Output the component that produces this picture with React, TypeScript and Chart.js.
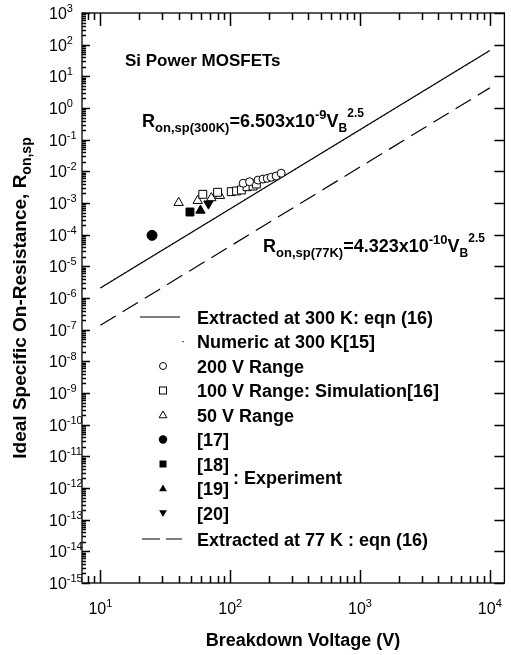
import React, { useEffect, useRef } from "react";
import { Chart, registerables } from "chart.js";

Chart.register(...registerables);

// Closed-form fits (R_on,sp = k * V_B^2.5), end points of each straight log-log line
const fitVoltage = [10, 10000];
const fit300K = [2.06e-6, 65.0];
const fit77K = [1.37e-7, 4.32];

// Numerical 300 K result
const numericVoltage = [10, 20, 50, 100, 200, 500, 1000, 2000, 5000, 10000];
const numeric300K = [2.1e-6, 1.2e-5, 1.15e-4, 6.6e-4, 3.7e-3, 3.6e-2, 0.2, 1.16, 11.4, 64];

// Simulated devices [16]
const range200Voltage = [126, 141, 164, 179, 193, 207, 226, 247];
const range200Ron = [4.2e-3, 4.7e-3, 5.3e-3, 5.7e-3, 6.0e-3, 6.5e-3, 7.1e-3, 8.7e-3];
const range100Voltage = [61.5, 80, 102, 112, 122, 135, 150, 159];
const range100Ron = [1.88e-3, 2.18e-3, 2.28e-3, 2.4e-3, 2.58e-3, 3.27e-3, 3.44e-3, 3.98e-3];
const range50Voltage = [40.1, 56.2, 71.6, 83.4];
const range50Ron = [1.02e-3, 1.18e-3, 1.44e-3, 1.7e-3];

// Experimental devices
const ref17Voltage = [25];
const ref17Ron = [9.5e-5];
const ref18Voltage = [49];
const ref18Ron = [5.2e-4];
const ref19Voltage = [59];
const ref19Ron = [5.8e-4];
const ref20Voltage = [68];
const ref20Ron = [9.5e-4];

const X_MIN = 7.22;
const X_MAX = 12950;
const Y_MIN = 1e-15;
const Y_MAX = 1e3;

const xDecades = [1, 2, 3, 4];
const xTickDecades = [0, 1, 2, 3, 4];
const yDecades = [3, 2, 1, 0, -1, -2, -3, -4, -5, -6, -7, -8, -9, -10, -11, -12, -13, -14, -15];
const mantissas = [1, 2, 3, 4, 5, 6, 7, 8, 9];

const legendRows = [
  "Extracted at 300 K: eqn (16)",
  "Numeric at 300 K[15]",
  "200 V Range",
  "100 V Range: Simulation[16]",
  "50 V Range",
  "[17]",
  "[18]",
  "[19]",
  "[20]",
  "Extracted at 77 K : eqn (16)",
];

const FONT = '"Liberation Sans", Arial, Helvetica, sans-serif';

const pts = (xs: number[], ys: number[]) => xs.map((x, i) => ({ x, y: ys[i] }));

type Seg = { t: string; s: number; dy?: number };

function rich(ctx: CanvasRenderingContext2D, x: number, y: number, segs: Seg[], bold: boolean, align: "left" | "center") {
  const widths = segs.map((sg) => {
    ctx.font = `${bold ? "bold " : ""}${sg.s}px ${FONT}`;
    return ctx.measureText(sg.t).width;
  });
  const total = widths.reduce((a, b) => a + b, 0);
  let cx = align === "center" ? x - total / 2 : x;
  segs.forEach((sg, i) => {
    ctx.font = `${bold ? "bold " : ""}${sg.s}px ${FONT}`;
    ctx.fillText(sg.t, cx, y + (sg.dy || 0));
    cx += widths[i];
  });
}

function tri(ctx: CanvasRenderingContext2D, x: number, y: number, r: number, down: boolean) {
  const h = r * 1.5;
  const w = r * 1.732;
  ctx.beginPath();
  if (down) {
    ctx.moveTo(x, y + r);
    ctx.lineTo(x - w / 2, y + r - h);
    ctx.lineTo(x + w / 2, y + r - h);
  } else {
    ctx.moveTo(x, y - r);
    ctx.lineTo(x - w / 2, y - r + h);
    ctx.lineTo(x + w / 2, y - r + h);
  }
  ctx.closePath();
}

function seg(ctx: CanvasRenderingContext2D, x1: number, y1: number, x2: number, y2: number) {
  ctx.beginPath();
  ctx.moveTo(x1, y1);
  ctx.lineTo(x2, y2);
  ctx.stroke();
}

// Frame with inward major/minor ticks on all four sides
const frameTicks = {
  id: "frameTicks",
  afterDraw(chart: any) {
    const ctx: CanvasRenderingContext2D = chart.ctx;
    const a = chart.chartArea;
    const xs = chart.scales.x;
    const ys = chart.scales.y;
    ctx.save();
    ctx.globalAlpha = 1;
    ctx.globalCompositeOperation = "source-over";
    ctx.setLineDash([]);
    ctx.strokeStyle = "#000";
    ctx.lineWidth = 1.5;
    ctx.beginPath();
    xTickDecades.forEach((e) => {
      mantissas.forEach((m) => {
        const v = m * Math.pow(10, e);
        if (v < X_MIN || v > X_MAX) return;
        const px = Math.round(xs.getPixelForValue(v)) + 0.5;
        const len = m === 1 ? 13 : 7;
        ctx.moveTo(px, a.bottom);
        ctx.lineTo(px, a.bottom - len);
        ctx.moveTo(px, a.top);
        ctx.lineTo(px, a.top + len);
      });
    });
    yDecades.forEach((e) => {
      mantissas.forEach((m) => {
        const v = m * Math.pow(10, e);
        if (v > Y_MAX * 1.001) return;
        const py = Math.round(ys.getPixelForValue(v)) + 0.5;
        const len = m === 1 ? 8 : 4;
        ctx.moveTo(a.left, py);
        ctx.lineTo(a.left + len, py);
        if (m === 1) {
          ctx.moveTo(a.right, py);
          ctx.lineTo(a.right - 10, py);
        }
      });
    });
    ctx.stroke();
    ctx.lineWidth = 1.3;
    ctx.strokeRect(a.left, a.top, a.right - a.left, a.bottom - a.top);
    ctx.restore();
  },
};

// Tick labels, axis titles, equations and the in-plot key
const annotations = {
  id: "annotations",
  afterDraw(chart: any) {
    const ctx: CanvasRenderingContext2D = chart.ctx;
    const a = chart.chartArea;
    const xs = chart.scales.x;
    const ys = chart.scales.y;
    ctx.save();
    ctx.setLineDash([]);
    ctx.strokeStyle = "#000";
    ctx.fillStyle = "#000";
    ctx.textAlign = "left";
    ctx.textBaseline = "alphabetic";

    yDecades.forEach((e) => {
      const py = ys.getPixelForValue(Math.pow(10, e));
      rich(ctx, 49, py + 6, [{ t: "10", s: 16 }, { t: String(e), s: 11, dy: -7 }], false, "left");
    });
    xDecades.forEach((e) => {
      const px = xs.getPixelForValue(Math.pow(10, e));
      rich(ctx, px, 614, [{ t: "10", s: 16 }, { t: String(e), s: 11, dy: -7 }], false, "center");
    });

    rich(ctx, 303, 646, [{ t: "Breakdown Voltage (V)", s: 18 }], true, "center");
    ctx.save();
    ctx.translate(26, (a.top + a.bottom) / 2);
    ctx.rotate(-Math.PI / 2);
    rich(ctx, 0, 0, [{ t: "Ideal Specific On-Resistance, R", s: 19 }, { t: "on,sp", s: 14, dy: 5 }], true, "center");
    ctx.restore();

    rich(ctx, 125, 66, [{ t: "Si Power MOSFETs", s: 17 }], true, "left");
    rich(
      ctx,
      142,
      127,
      [
        { t: "R", s: 18 },
        { t: "on,sp(300K)", s: 13, dy: 5 },
        { t: "=6.503x10", s: 18 },
        { t: "-9", s: 13, dy: -8 },
        { t: "V", s: 18 },
        { t: "B", s: 12, dy: 5 },
        { t: "2.5", s: 12, dy: -10 },
      ],
      true,
      "left"
    );
    rich(
      ctx,
      263,
      252,
      [
        { t: "R", s: 18 },
        { t: "on,sp(77K)", s: 13, dy: 5 },
        { t: "=4.323x10", s: 18 },
        { t: "-10", s: 13, dy: -8 },
        { t: "V", s: 18 },
        { t: "B", s: 12, dy: 5 },
        { t: "2.5", s: 12, dy: -10 },
      ],
      true,
      "left"
    );

    const rowY = [317, 341.5, 366, 390.5, 415, 439.5, 464, 488.5, 513, 539];
    legendRows.forEach((label, i) => {
      rich(ctx, 197, rowY[i] + 6.5, [{ t: label, s: 18 }], true, "left");
    });
    rich(ctx, 233, 477 + 6.5, [{ t: ": Experiment", s: 18 }], true, "left");

    const mx = 163;
    ctx.lineWidth = 1.2;
    seg(ctx, 140, rowY[0], 180, rowY[0]);
    ctx.setLineDash([18, 6]);
    seg(ctx, 142, rowY[9], 182, rowY[9]);
    ctx.setLineDash([]);
    ctx.fillRect(182.5, rowY[1] - 0.5, 1.2, 1.2);

    ctx.lineWidth = 1;
    ctx.beginPath();
    ctx.arc(mx, rowY[2], 3.5, 0, Math.PI * 2);
    ctx.stroke();
    ctx.strokeRect(mx - 3.5, rowY[3] - 3.5, 7, 7);
    tri(ctx, mx, rowY[4] + 0.5, 4.5, false);
    ctx.stroke();
    ctx.beginPath();
    ctx.arc(mx, rowY[5], 4.2, 0, Math.PI * 2);
    ctx.fill();
    ctx.fillRect(mx - 3.5, rowY[6] - 3.5, 7, 7);
    tri(ctx, mx, rowY[7] + 0.5, 4.5, false);
    ctx.fill();
    tri(ctx, mx, rowY[8] - 0.5, 4.5, true);
    ctx.fill();

    ctx.restore();
  },
};

export default function App() {
  const canvasRef = useRef<HTMLCanvasElement | null>(null);

  useEffect(() => {
    const canvas = canvasRef.current;
    if (!canvas) return;
    const openMarker = { backgroundColor: "#fff", borderColor: "#000", borderWidth: 1, order: 0 };
    const solidMarker = { backgroundColor: "#000", borderColor: "#000", borderWidth: 1, order: 0 };
    const chart = new Chart(canvas, {
      type: "scatter",
      data: {
        datasets: [
          { label: "200 V Range", data: pts(range200Voltage, range200Ron), pointStyle: "circle", pointRadius: 4, ...openMarker },
          { label: "100 V Range", data: pts(range100Voltage, range100Ron), pointStyle: "rect", pointRadius: 5.6, ...openMarker },
          { label: "50 V Range", data: pts(range50Voltage, range50Ron), pointStyle: "triangle", pointRadius: 5.4, ...openMarker },
          { label: "[17]", data: pts(ref17Voltage, ref17Ron), pointStyle: "circle", pointRadius: 5, ...solidMarker },
          { label: "[18]", data: pts(ref18Voltage, ref18Ron), pointStyle: "rect", pointRadius: 5.6, ...solidMarker },
          { label: "[19]", data: pts(ref19Voltage, ref19Ron), pointStyle: "triangle", pointRadius: 5.4, ...solidMarker },
          { label: "[20]", data: pts(ref20Voltage, ref20Ron), pointStyle: "triangle", rotation: 180, pointRadius: 5.4, ...solidMarker },
          {
            label: "Extracted at 300 K",
            data: pts(fitVoltage, fit300K),
            showLine: true,
            borderColor: "#000",
            borderWidth: 1.2,
            pointRadius: 0,
            order: 1,
          },
          {
            label: "Numeric at 300 K",
            data: pts(numericVoltage, numeric300K),
            showLine: true,
            borderColor: "#000",
            borderWidth: 1,
            borderDash: [1, 3],
            pointRadius: 0,
            order: 1,
          },
          {
            label: "Extracted at 77 K",
            data: pts(fitVoltage, fit77K),
            showLine: true,
            borderColor: "#000",
            borderWidth: 1.2,
            borderDash: [18, 8],
            pointRadius: 0,
            order: 1,
          },
        ],
      },
      options: {
        responsive: false,
        animation: false,
        events: [],
        layout: { padding: { left: 82, right: 3, top: 13, bottom: 72 } },
        scales: {
          x: { type: "logarithmic", min: X_MIN, max: X_MAX, display: false },
          y: { type: "logarithmic", min: Y_MIN, max: Y_MAX, display: false },
        },
        plugins: { legend: { display: false }, tooltip: { enabled: false } },
      },
      plugins: [frameTicks, annotations],
    } as any);
    return () => chart.destroy();
  }, []);

  return (
    <div style={{ position: "fixed", left: 0, top: 0, width: 511, height: 655 }}>
      <canvas ref={canvasRef} width={511} height={655} style={{ display: "block", width: 511, height: 655 }} />
    </div>
  );
}
